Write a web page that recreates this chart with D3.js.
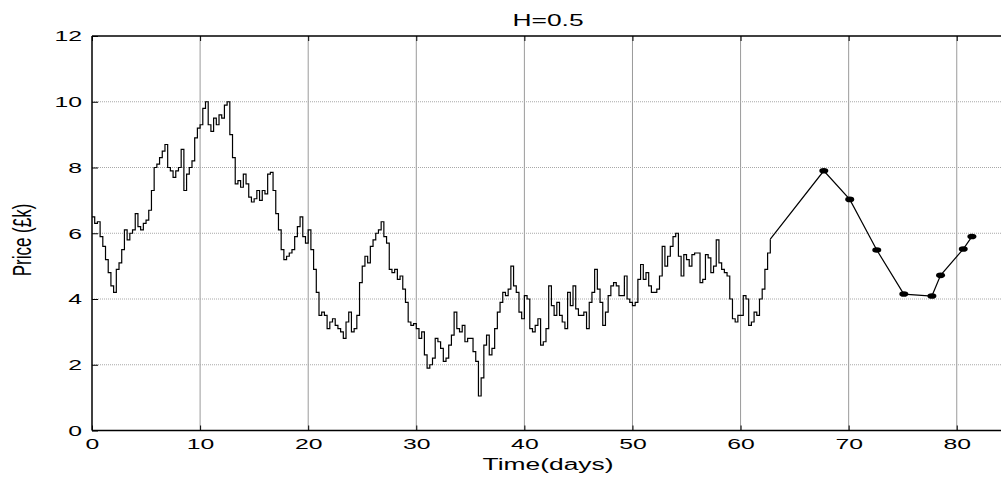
<!DOCTYPE html>
<html>
<head>
<meta charset="utf-8">
<script src="https://cdn.jsdelivr.net/npm/d3@7"></script>
<style>
  body { margin: 0; background: #fff; }
  svg { display: block; font-family: "Liberation Sans", Arial, sans-serif; }
</style>
</head>
<body>
<div class="main"></div>
<script>
const title = "H=0.5"
const xLabel = "Time(days)"
const yLabel = "Price (£k)"
const xTicks = [0, 10, 20, 30, 40, 50, 60, 70, 80]
const yTicks = [0, 2, 4, 6, 8, 10, 12]

// simulated walk, sampled every 0.25 day from day 0
const walkStep = 0.25
const walkPrice = [
  6.5, 6.3, 6.35, 5.9, 5.6, 5.2, 4.8, 4.4, 4.2, 4.9, 5.1, 5.5, 6.1, 5.8, 6.0, 6.1,
  6.6, 6.2, 6.1, 6.3, 6.4, 6.7, 7.3, 8.0, 8.1, 8.3, 8.5, 8.7, 8.0, 7.9, 7.7, 7.9,
  8.0, 8.55, 7.3, 7.8, 8.0, 8.2, 8.9, 9.2, 9.3, 9.8, 10.0, 9.3, 9.1, 9.5, 9.3, 9.6,
  9.5, 9.9, 10.0, 9.0, 8.3, 7.5, 7.6, 7.4, 7.8, 7.5, 7.1, 6.95, 7.05, 7.3, 7.0, 7.3,
  7.2, 7.8, 7.85, 7.3, 6.6, 6.1, 5.5, 5.2, 5.3, 5.4, 5.5, 5.9, 6.2, 6.5, 5.9, 5.7,
  6.1, 5.5, 4.9, 4.2, 3.5, 3.6, 3.5, 3.1, 3.3, 3.4, 3.2, 3.1, 3.0, 2.8, 3.3, 3.6,
  3.0, 3.1, 3.5, 4.5, 5.0, 5.3, 5.1, 5.6, 5.8, 6.0, 6.1, 6.35, 5.9, 5.7, 4.9, 4.8,
  4.9, 4.6, 4.7, 4.3, 3.9, 3.3, 3.2, 3.25, 3.1, 2.8, 3.0, 2.3, 1.9, 2.0, 2.2, 2.8,
  2.7, 2.5, 2.1, 2.2, 2.6, 2.9, 3.6, 3.1, 3.0, 3.2, 2.7, 2.8, 2.8, 2.4, 2.1, 1.05,
  1.6, 2.6, 2.9, 2.3, 2.5, 3.1, 3.6, 3.9, 4.2, 4.1, 4.3, 5.0, 4.4, 4.2, 3.6, 3.4,
  4.1, 4.0, 3.1, 3.0, 3.2, 3.4, 2.6, 2.7, 3.1, 4.4, 3.8, 3.5, 3.9, 3.5, 3.3, 3.1,
  4.2, 3.8, 4.4, 3.7, 3.5, 3.5, 3.6, 3.1, 3.9, 4.2, 4.9, 4.3, 3.9, 3.2, 3.6, 4.1,
  4.4, 4.5, 4.4, 4.1, 4.1, 4.7, 4.0, 3.9, 3.8, 3.9, 4.6, 5.05, 4.6, 4.8, 4.4, 4.2,
  4.2, 4.3, 4.7, 5.6, 5.0, 5.3, 5.6, 5.9, 6.0, 5.3, 4.7, 5.35, 5.2, 5.0, 5.35, 5.4,
  5.4, 4.5, 4.6, 5.35, 5.25, 4.8, 5.0, 5.8, 5.1, 4.9, 4.8, 4.7, 4.0, 3.4, 3.3, 3.5,
  3.5, 4.1, 4.0, 3.2, 3.3, 3.6, 3.5, 4.0, 4.3, 4.9, 5.4, 5.82
]

// forecast points (first one is the end of the walk, no marker)
const forecastDays = [62.75, 67.7, 70.1, 72.6, 75.1, 77.7, 78.5, 80.6, 81.4]
const forecastPrice = [5.82, 7.90, 7.03, 5.49, 4.15, 4.09, 4.72, 5.52, 5.90]

const W = 1001, H = 478
const margin = { left: 92, top: 36, bottom: 430.5, right: 1004 }
const sx = 1.65   // the picture is stretched sideways

const svg = d3.select(".main").append("svg")
    .attr("width", W)
    .attr("height", H)

const x = d3.scaleLinear().domain([0, 84.37]).range([margin.left, margin.right])
const y = d3.scaleLinear().domain([0, 12]).range([margin.bottom, margin.top])

// grid
svg.append("g")
    .selectAll("line")
    .data(xTicks.slice(1))
    .join("line")
    .attr("x1", d => x(d)).attr("x2", d => x(d))
    .attr("y1", margin.top).attr("y2", margin.bottom)
    .attr("stroke", "#9a9a9a")
    .attr("stroke-width", 1)

svg.append("g")
    .selectAll("line")
    .data(yTicks.slice(1, -1))
    .join("line")
    .attr("x1", margin.left).attr("x2", margin.right)
    .attr("y1", d => y(d)).attr("y2", d => y(d))
    .attr("stroke", "#a8a8a8")
    .attr("stroke-width", 1)
    .attr("stroke-dasharray", "1,1")

// walk
const walk = walkPrice.map((p, i) => [i * walkStep, p])
svg.append("path")
    .datum(walk)
    .attr("fill", "none")
    .attr("stroke", "#000")
    .attr("stroke-width", 1.2)
    .attr("d", d3.line().curve(d3.curveStepAfter).x(d => x(d[0])).y(d => y(d[1])))

// forecast
const fc = forecastDays.map((d, i) => [d, forecastPrice[i]])
svg.append("path")
    .datum(fc)
    .attr("fill", "none")
    .attr("stroke", "#000")
    .attr("stroke-width", 1.2)
    .attr("d", d3.line().x(d => x(d[0])).y(d => y(d[1])))

svg.append("g")
    .selectAll("ellipse")
    .data(fc.slice(1))
    .join("ellipse")
    .attr("cx", d => x(d[0]))
    .attr("cy", d => y(d[1]))
    .attr("rx", 4.5)
    .attr("ry", 2.8)
    .attr("fill", "#000")

// axes
const xAxis = svg.append("g")
    .attr("transform", `translate(0,${margin.bottom})`)
    .call(d3.axisBottom(x).tickValues(xTicks).tickSizeInner(-5).tickSizeOuter(0).tickPadding(8))
xAxis.select(".domain").remove()
xAxis.selectAll("text")
    .attr("font-size", 15)
    .attr("fill", "#000")
    .attr("transform", `scale(${sx},1)`)

const topAxis = svg.append("g")
    .attr("transform", `translate(0,${margin.top})`)
    .call(d3.axisTop(x).tickValues(xTicks).tickSizeInner(-5).tickSizeOuter(0).tickFormat(""))
topAxis.select(".domain").remove()

const yAxis = svg.append("g")
    .attr("transform", `translate(${margin.left},0)`)
    .call(d3.axisLeft(y).tickValues(yTicks).tickSizeInner(-6).tickSizeOuter(0))
yAxis.select(".domain").remove()
yAxis.selectAll("text")
    .attr("font-size", 15)
    .attr("fill", "#000")
    .attr("x", -10 / sx)
    .attr("transform", `scale(${sx},1)`)

// frame
svg.append("line").attr("x1", margin.left).attr("x2", W).attr("y1", margin.top).attr("y2", margin.top)
    .attr("stroke", "#000").attr("stroke-width", 1.5)
svg.append("line").attr("x1", margin.left).attr("x2", W).attr("y1", margin.bottom).attr("y2", margin.bottom)
    .attr("stroke", "#000").attr("stroke-width", 1.5)
svg.append("line").attr("x1", margin.left).attr("x2", margin.left).attr("y1", margin.top).attr("y2", margin.bottom)
    .attr("stroke", "#000").attr("stroke-width", 1.5)

// labels
svg.append("text")
    .attr("transform", `translate(${(margin.left + margin.right) / 2},26) scale(${sx},1)`)
    .attr("text-anchor", "middle")
    .attr("font-size", 16)
    .text(title)

svg.append("text")
    .attr("transform", `translate(${(margin.left + margin.right) / 2},470) scale(${sx},1)`)
    .attr("text-anchor", "middle")
    .attr("font-size", 16)
    .text(xLabel)

svg.append("text")
    .attr("transform", `translate(31,240) scale(1.5,1) rotate(-90)`)
    .attr("text-anchor", "middle")
    .attr("font-size", 17)
    .text(yLabel)
</script>
</body>
</html>
